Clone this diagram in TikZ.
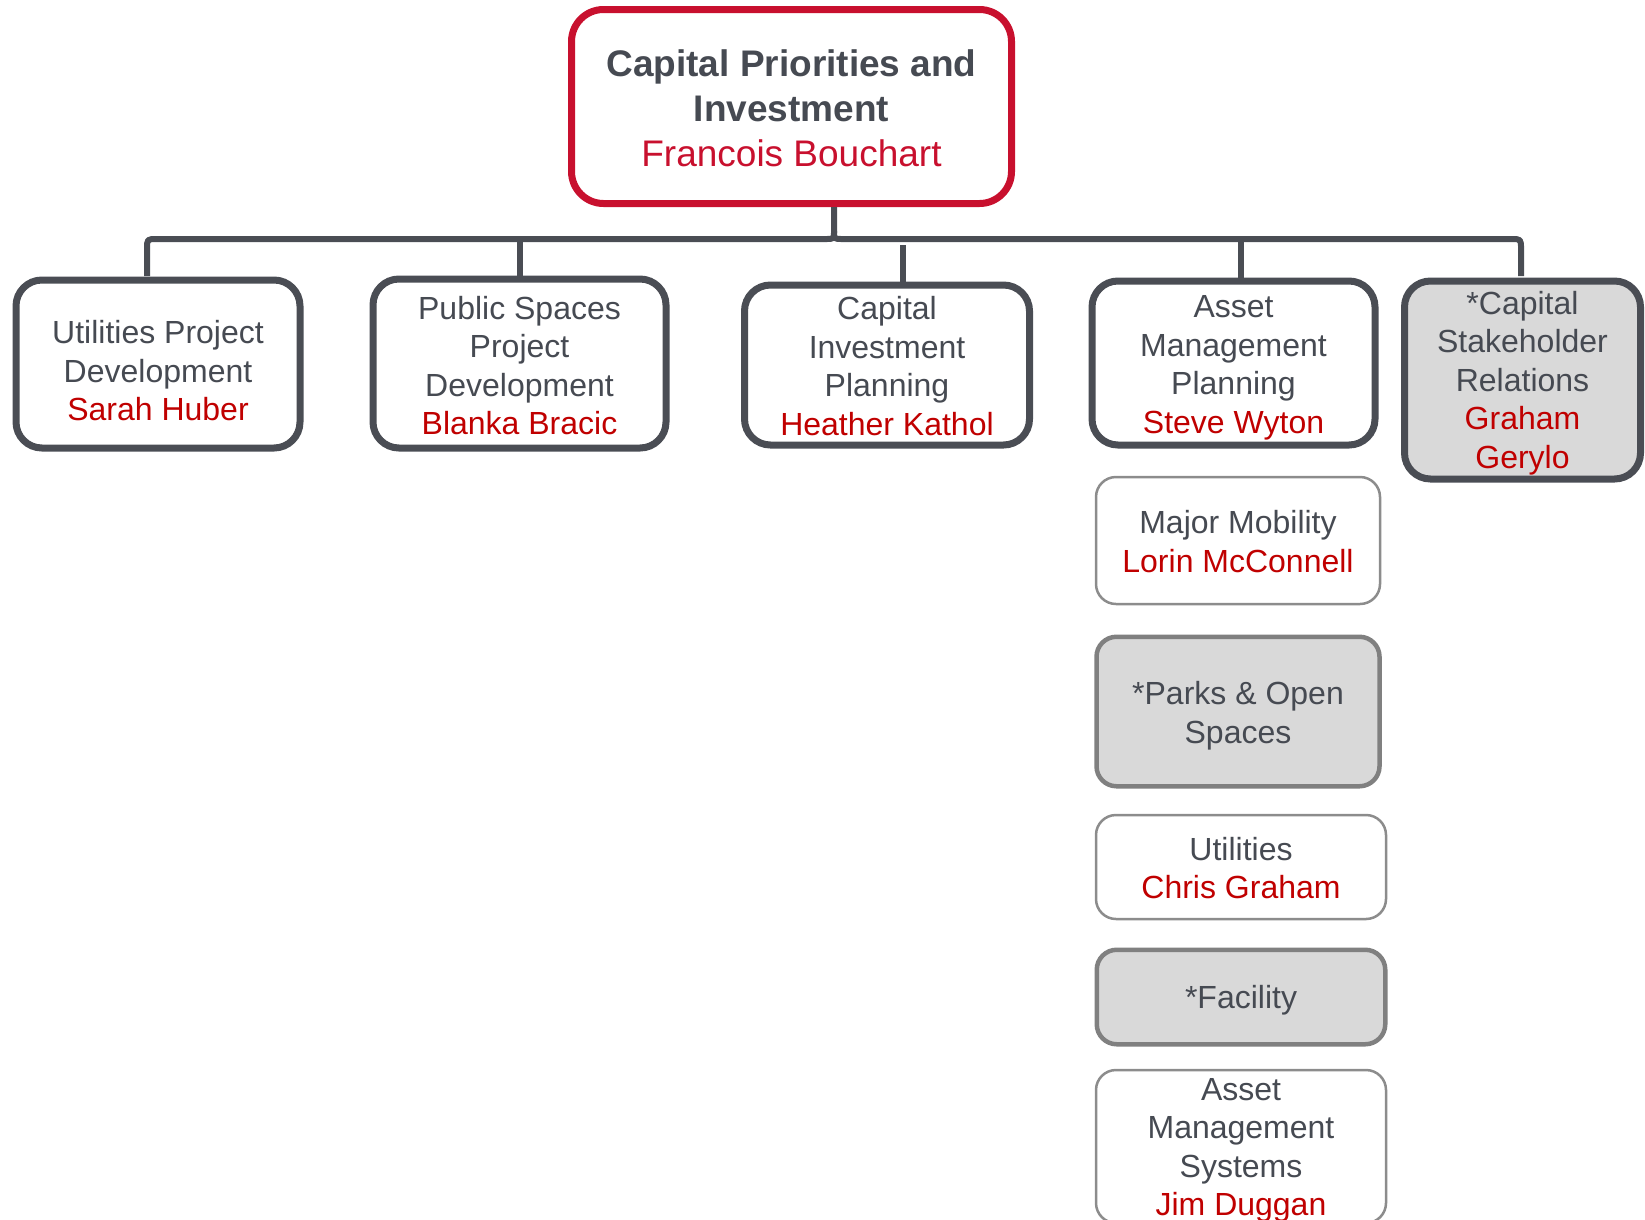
\documentclass[tikz,border=0pt]{standalone}
\usepackage{fontspec}
\setmainfont{Liberation Sans}
\usetikzlibrary{calc}
\definecolor{topred}{RGB}{200,16,46}
\definecolor{namered}{RGB}{192,0,0}
\definecolor{dkgray}{RGB}{74,77,84}
\definecolor{txtgray}{RGB}{70,74,82}
\definecolor{thingray}{RGB}{140,140,140}
\definecolor{thickgray}{RGB}{128,128,128}
\definecolor{gfill}{RGB}{217,217,217}
\newcommand{\nm}[1]{\textcolor{namered}{#1}}
\tikzset{
  ttxt/.style={align=center, text=txtgray, inner sep=0pt, font=\fontsize{37}{45}\selectfont},
  txt/.style={align=center, text=txtgray, inner sep=0pt, font=\fontsize{32}{38.5}\selectfont},
  topbox/.style={draw=topred, line width=7pt, rounded corners=32pt, fill=white, inner sep=0pt},
  box/.style={draw=dkgray, line width=7pt, rounded corners=26pt, fill=white, inner sep=0pt},
  sbox/.style={draw=thingray, line width=2.5pt, rounded corners=20pt, fill=white, inner sep=0pt},
  gbox/.style={draw=thickgray, line width=4.5pt, rounded corners=20pt, fill=gfill, inner sep=0pt},
  conn/.style={draw=dkgray, line width=6pt, line join=round}
}
\begin{document}
\begin{tikzpicture}[x=1pt,y=-1pt]
\useasboundingbox (0,0) rectangle (1645,1219);
\clip (0,0) rectangle (1645,1219);

\node[topbox, minimum width=440pt, minimum height=194pt,
  label={[ttxt, name=t0, yshift=-2pt]center:{\textbf{Capital Priorities and}\\\textbf{Investment}\\\textcolor{topred}{Francois Bouchart}}}]
  (top) at (791.5,106.5) {};

\node[box, minimum width=284pt, minimum height=168pt,
  label={[txt, name=t1, yshift=-7pt]center:{Utilities Project\\Development\\\nm{Sarah Huber}}}]
  (b1) at (158,364) {};
\node[box, minimum width=293pt, minimum height=169pt,
  label={[txt, name=t2, yshift=-2pt]center:{Public Spaces\\Project\\Development\\\nm{Blanka Bracic}}}]
  (b2) at (519.5,363.5) {};
\node[box, minimum width=285pt, minimum height=160pt,
  label={[txt, name=t3, yshift=-1pt]center:{Capital\\Investment\\Planning\\\nm{Heather Kathol}}}]
  (b3) at (887,365) {};
\node[box, minimum width=283pt, minimum height=164pt,
  label={[txt, name=t4, yshift=-5pt]center:{Asset\\Management\\Planning\\\nm{Steve Wyton}}}]
  (b4) at (1233.5,363) {};
\node[box, fill=gfill, minimum width=236pt, minimum height=198pt,
  label={[txt, name=t5, yshift=-3pt]center:{*Capital\\Stakeholder\\Relations\\\nm{Graham}\\\nm{Gerylo}}}]
  (b5) at (1522.5,380) {};

\node[sbox, minimum width=284pt, minimum height=127pt,
  label={[txt, name=t6, yshift=-1pt]center:{Major Mobility\\\nm{Lorin McConnell}}}]
  (b6) at (1238,540.5) {};
\node[gbox, minimum width=283pt, minimum height=149.5pt,
  label={[txt, name=t7, yshift=-4pt]center:{*Parks \& Open\\Spaces}}]
  (b7) at (1238,711.5) {};
\node[sbox, minimum width=290pt, minimum height=104pt,
  label={[txt, name=t8, yshift=-1pt]center:{Utilities\\\nm{Chris Graham}}}]
  (b8) at (1241,867) {};
\node[gbox, minimum width=288.5pt, minimum height=94.5pt,
  label={[txt, name=t9, yshift=-3pt]center:{*Facility}}]
  (b9) at (1241,997) {};
\node[sbox, minimum width=290pt, minimum height=153pt,
  label={[txt, name=t10, yshift=-4pt]center:{Asset\\Management\\Systems\\\nm{Jim Duggan}}}]
  (b10) at (1241,1146.5) {};

\coordinate (hub) at (834,239);
\coordinate (k1) at (147,276);
\coordinate (k3) at (903,245);
\coordinate (k4) at (1241,239);
\coordinate (k5) at (1521,276);

\draw[conn] (top.south -| hub) -- ($(hub)+(0,-8)$) .. controls (hub) .. ($(hub)+(-8,0)$)
  -- ($(hub -| k1)+(10,0)$) .. controls (hub -| k1) .. ($(hub -| k1)+(0,10)$) -- (k1);
\draw[conn] ($(hub)+(0,-8)$) .. controls (hub) .. ($(hub)+(8,0)$)
  -- ($(hub -| k5)+(-10,0)$) .. controls (hub -| k5) .. ($(hub -| k5)+(0,10)$) -- (k5);
\draw[conn] (hub -| b2.north) -- (b2.north);
\draw[conn] (k3) -- (b3.north -| k3);
\draw[conn] (k4) -- (b4.north -| k4);
\end{tikzpicture}
\end{document}
